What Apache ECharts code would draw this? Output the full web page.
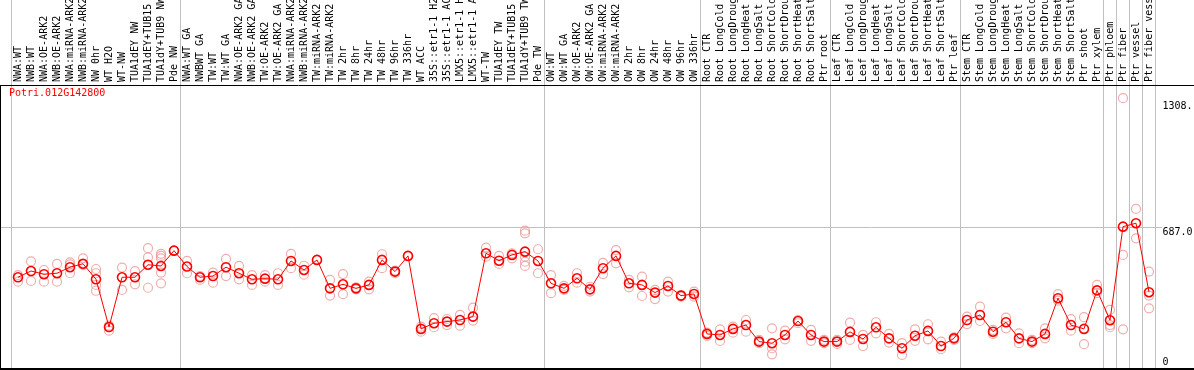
<!DOCTYPE html>
<html>
<head>
<meta charset="utf-8">
<script src="https://cdn.jsdelivr.net/npm/echarts@6/dist/echarts.min.js"></script>
<style>
html,body{margin:0;padding:0;background:#fff;}
#chart{width:1194px;height:370px;}
</style>
</head>
<body>
<div id="chart"></div>
<script>
// ---------------- data ----------------
const geneId = 'Potri.012G142800';

const categories = [
  'NWA:WT','NWB:WT','NWA:OE-ARK2','NWB:OE-ARK2','NWA:miRNA-ARK2','NWB:miRNA-ARK2','NW 0hr','WT H2O','WT-NW',
  'TUA1dEY NW','TUA1dEY+TUB15','TUA1dY+TUB9 NW','Pde NW',
  'NWA:WT GA','NWBWT GA','TW:WT','TW:WT GA','NWA:OE-ARK2 GA','NWB:OE-ARK2 GA','TW:OE-ARK2','TW:OE-ARK2 GA',
  'NWA:miRNA-ARK2','NWB:miRNA-ARK2','TW:miRNA-ARK2','TW:miRNA-ARK2','TW 2hr','TW 8hr','TW 24hr','TW 48hr',
  'TW 96hr','TW 336hr','WT ACC','35S::etr1-1 H2','35S::etr1-1 AC','LMX5::etr1-1 H','LMX5::etr1-1 A','WT-TW',
  'TUA1dEY TW','TUA1dEY+TUB15','TUA1dY+TUB9 TW','Pde TW',
  'OW:WT','OW:WT GA','OW:OE-ARK2','OW:OE-ARK2 GA','OW:miRNA-ARK2','OW:miRNA-ARK2','OW 2hr','OW 8hr','OW 24hr',
  'OW 48hr','OW 96hr','OW 336hr',
  'Root CTR','Root LongCold','Root LongDroug','Root LongHeat','Root LongSalt','Root ShortCold','Root ShortDrou',
  'Root ShortHeat','Root ShortSalt','Ptr root',
  'Leaf CTR','Leaf LongCold','Leaf LongDroug','Leaf LongHeat','Leaf LongSalt','Leaf ShortCold','Leaf ShortDrou',
  'Leaf ShortHeat','Leaf ShortSalt','Ptr leaf',
  'Stem CTR','Stem LongCold','Stem LongDroug','Stem LongHeat','Stem LongSalt','Stem ShortCold','Stem ShortDrou',
  'Stem ShortHeat','Stem ShortSalt','Ptr shoot',
  'Ptr xylem','Ptr phloem','Ptr fiber','Ptr vessel','Ptr fiber vess'
];

const means = [
  440,471,455,460,490,507,430,193,440,440,502,496,572,
  493,440,446,490,460,430,433,430,521,476,526,385,405,385,402,526,468,546,184,212,220,228,245,559,522,551,567,521,
  410,385,435,380,485,546,410,402,364,397,349,357,
  159,154,184,203,121,113,154,223,154,121,
  121,169,134,192,137,88,150,174,99,137,
  228,253,170,217,137,121,159,336,203,184,
  375,227,691,708,366
];

const replicates = [
  [451,418],[519,422],[476,418],[506,418],[514,504,460],[534,501],[481,460,402,373],[200,175],[488,377],
  [470,405],[584,539,388],[556,546,534,463,410],[572],
  [521,460],[446,427],[463,413],[531,446],[496,430],[451,402],[451,418],[460,402],[556,485],[497,453],[526],
  [427,349],[456,356],[390,380],[418,380],[554,485],[473,460],[546],[195,170],[237,192],[233,203],[253,200],
  [289,225],[587,542],[546,506],[559,534],[671,658,542,517,496],[579,460],
  [451,361],[397,377],[460,413],[393,369],[511,456],[575,509],[427,390],[443,347],[377,332],[418,369],
  [352,344],[369,344],
  [165,149],[182,124],[195,165],[228,170],[129,113],[187,88,58],[175,132],[228,212],[179,125],[129,113],
  [129,109],[215,129],[154,99],[217,162],[159,116],[113,55],[182,125],[207,132],[121,83],[142,129],
  [245,208],[294,223],[179,159],[240,187],[162,113],[129,113],[187,137],[356,324],[232,175],[242,108],
  [402,361],[278,203,192],[1328,551,182],[779,633],[468,349,286]
];

// group boundaries (band positions) where grey separators are drawn
const groupBoundaries = [0, 13, 41, 53, 63, 73, 84, 85, 86, 87, 88];

// right-hand tick values and labels
const yTickValues = [0, 687.0, 1308.0];
const yTickLabels = ['0', '687.0', '1308.'];
const refLineValue = 687.0;

// ---------------- chart ----------------
const replicatePoints = [];
replicates.forEach((arr, i) => arr.forEach(v => replicatePoints.push([i, v])));

const MONO = '"DejaVu Sans Mono", "Liberation Mono", monospace';
const chart = echarts.init(document.getElementById('chart'), null, {renderer: 'canvas'});

const option = {
  animation: false,
  backgroundColor: '#ffffff',
  title: {
    text: geneId,
    left: 9,
    top: 88,
    padding: 0,
    textStyle: {color: '#ff0000', fontFamily: MONO, fontSize: 10, fontWeight: 'normal'}
  },
  grid: {left: 11.5, right: 38.5, top: 0, bottom: 2, containLabel: false, outerBoundsMode: 'none'},
  xAxis: [
    {
      type: 'category',
      data: categories,
      position: 'top',
      offset: -85,
      boundaryGap: true,
      axisLine: {show: false},
      axisTick: {show: false},
      splitLine: {show: false},
      axisLabel: {
        interval: 0,
        rotate: 90,
        margin: 3,
        color: '#000',
        fontFamily: MONO,
        fontSize: 10,
        hideOverlap: false,
        formatter: (v, i) => categories[i]
      }
    },
    {
      type: 'value',
      min: 0,
      max: categories.length,
      show: false
    }
  ],
  yAxis: {
    type: 'value',
    position: 'right',
    min: -10,
    max: 1815,
    axisLine: {show: false},
    axisTick: {show: false},
    splitLine: {show: false},
    axisLabel: {
      customValues: yTickValues,
      margin: 7,
      color: '#000',
      fontFamily: MONO,
      fontSize: 10,
      formatter: (v) => {
        const idx = yTickValues.indexOf(v);
        const txt = idx >= 0 ? yTickLabels[idx] : String(v);
        return v === 0 ? '{b|' + txt + '}' : '{t|' + txt + '}';
      },
      rich: {
        t: {fontFamily: MONO, fontSize: 10, color: '#000', padding: [9, 0, 0, 0]},
        b: {fontFamily: MONO, fontSize: 10, color: '#000', padding: [0, 0, 8, 0]}
      }
    }
  },
  series: [
    {
      type: 'scatter',
      xAxisIndex: 1,
      data: [],
      silent: true,
      markLine: {
        silent: true,
        symbol: ['none', 'none'],
        label: {show: false},
        lineStyle: {color: '#c0c0c0', width: 1, type: 'solid'},
        data: groupBoundaries.map(b => ({xAxis: b}))
      }
    },
    {
      type: 'scatter',
      xAxisIndex: 0,
      data: replicatePoints,
      symbol: 'circle',
      symbolSize: 9,
      z: 3,
      itemStyle: {color: 'rgba(0,0,0,0)', borderColor: '#eb9a9a', borderWidth: 1.2}
    },
    {
      type: 'line',
      xAxisIndex: 0,
      data: means,
      symbol: 'circle',
      symbolSize: 9,
      showAllSymbol: true,
      z: 5,
      lineStyle: {color: '#ff0000', width: 1},
      itemStyle: {color: 'rgba(0,0,0,0)', borderColor: '#ff0000', borderWidth: 1.6}
    }
  ]
};
chart.setOption(option);

// frame and full-width reference line, positioned through the library's scale
const yRef = Math.round(chart.convertToPixel({yAxisIndex: 0}, refLineValue)) + 0.5;
chart.setOption({
  graphic: [
    {type: 'line', silent: true, z: 1, shape: {x1: 0, y1: yRef, x2: 1162, y2: yRef}, style: {stroke: '#c0c0c0', lineWidth: 1}},
    {type: 'line', silent: true, z: 10, shape: {x1: 0, y1: 85.5, x2: 1194, y2: 85.5}, style: {stroke: '#000', lineWidth: 1}},
    {type: 'line', silent: true, z: 10, shape: {x1: 0, y1: 369, x2: 1194, y2: 369}, style: {stroke: '#000', lineWidth: 2}},
    {type: 'line', silent: true, z: 10, shape: {x1: 0.5, y1: 85, x2: 0.5, y2: 370}, style: {stroke: '#000', lineWidth: 1}}
  ]
});
</script>
</body>
</html>
